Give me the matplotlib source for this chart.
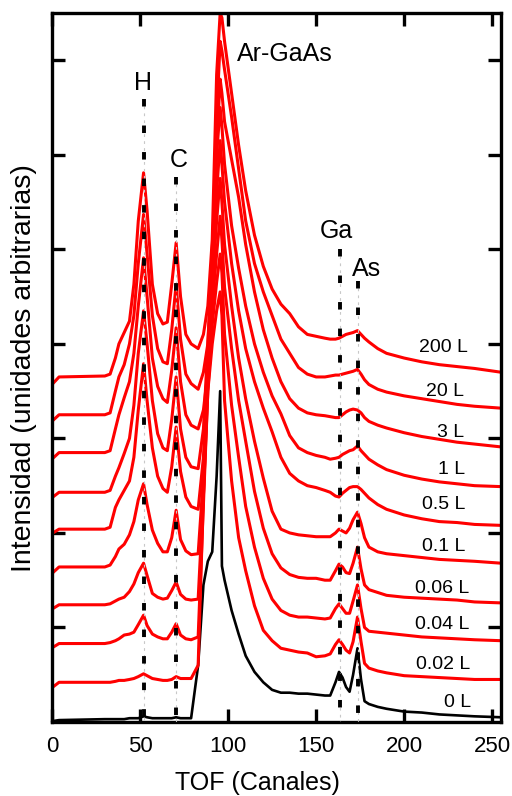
import matplotlib
matplotlib.use("Agg")
import matplotlib.pyplot as plt

plt.rcParams['font.family'] = ['Liberation Sans', 'DejaVu Sans']
plt.rcParams['lines.scale_dashes'] = False

# TOF channel grid shared by all spectra
tof = [0.5, 4, 30, 33, 36, 38, 41, 44, 46.5, 49, 52, 54, 57, 60, 63, 65.5, 68,
       70.5, 73, 76, 79, 83, 86, 88.5, 91, 93.5, 95.5,
       96.5, 98, 102, 106, 110, 115, 120, 125, 130, 135, 140, 145, 150, 155,
       158, 161, 163, 165, 167, 169, 171, 173.5, 175.5, 177.5, 180, 185, 190,
       200, 210, 220, 230, 240, 255]

# Offset spectra (arbitrary units), one list per hydrogen exposure
spec_0L = [0.01, 0.02, 0.03, 0.03, 0.03, 0.03, 0.03, 0.04, 0.04, 0.04, 0.06, 0.05, 0.04, 0.04, 0.04, 0.04, 0.04,
           0.05, 0.04, 0.04, 0.04, 0.6, 1.45, 1.7, 1.8, 2.6, 3.5,
           1.65, 1.5, 1.18, 0.93, 0.70, 0.53, 0.42, 0.34, 0.31, 0.31, 0.30, 0.30, 0.29, 0.28,
           0.28, 0.42, 0.53, 0.47, 0.37, 0.32, 0.5, 0.78, 0.45, 0.22, 0.19, 0.16, 0.14,
           0.11, 0.10, 0.08, 0.07, 0.06, 0.05]
spec_002L = [0.37, 0.42, 0.42, 0.42, 0.43, 0.44, 0.44, 0.45, 0.46, 0.48, 0.51, 0.49, 0.46, 0.45, 0.44, 0.44, 0.45,
             0.48, 0.46, 0.46, 0.46, 0.6, 2.4, 3.5, 4.0, 4.35, 4.55,
             4.3, 3.4, 2.55, 1.95, 1.60, 1.23, 0.97, 0.86, 0.78, 0.76, 0.74, 0.73, 0.69, 0.70,
             0.72, 0.82, 0.87, 0.82, 0.76, 0.73, 0.85, 1.11, 0.85, 0.62, 0.57, 0.54, 0.52,
             0.49, 0.48, 0.47, 0.46, 0.45, 0.45]
spec_004L = [0.79, 0.83, 0.83, 0.84, 0.86, 0.88, 0.92, 0.93, 0.95, 1.03, 1.13, 1.02, 0.93, 0.9, 0.88, 0.88, 0.95,
             1.04, 0.92, 0.88, 0.87, 0.9, 2.3, 3.5, 4.2, 4.65, 4.95,
             4.75, 4.1, 3.35, 2.8, 2.28, 1.85, 1.52, 1.3, 1.18, 1.13, 1.11, 1.11, 1.10, 1.09,
             1.10, 1.2, 1.25, 1.2, 1.15, 1.15, 1.28, 1.45, 1.2, 1.0, 0.96, 0.95, 0.94,
             0.92, 0.9, 0.89, 0.88, 0.87, 0.86]
spec_006L = [1.2, 1.24, 1.24, 1.25, 1.28, 1.3, 1.32, 1.38, 1.46, 1.58, 1.68, 1.55, 1.36, 1.32, 1.3, 1.31, 1.39,
             1.48, 1.35, 1.3, 1.29, 1.3, 2.4, 3.6, 4.4, 4.95, 5.35,
             5.1, 4.6, 3.95, 3.4, 2.97, 2.44, 2.05, 1.78, 1.63, 1.56, 1.53, 1.52, 1.52, 1.5,
             1.5, 1.6, 1.67, 1.64, 1.58, 1.57, 1.68, 1.85, 1.62, 1.45, 1.4, 1.37, 1.34,
             1.32, 1.31, 1.3, 1.29, 1.27, 1.26]
spec_01L = [1.58, 1.64, 1.64, 1.66, 1.75, 1.83, 1.88, 1.98, 2.12, 2.35, 2.52, 2.3, 2.03, 1.89, 1.8, 1.8, 1.95,
            2.24, 1.93, 1.81, 1.77, 1.78, 2.6, 3.7, 4.6, 5.3, 5.75,
            5.5, 5.05, 4.4, 3.85, 3.42, 2.97, 2.58, 2.23, 2.04, 2.0, 1.98, 1.97, 1.96, 1.96,
            1.96, 2.0, 2.04, 2.02, 2.0, 2.05, 2.14, 2.22, 2.1, 1.95, 1.85, 1.80, 1.78,
            1.76, 1.74, 1.72, 1.71, 1.7, 1.68]
spec_05L = [2.0, 2.04, 2.04, 2.06, 2.27, 2.35, 2.45, 2.55, 2.8, 3.3, 3.79, 3.4, 2.9, 2.6, 2.47, 2.43, 2.7,
            3.12, 2.65, 2.38, 2.28, 2.25, 2.8, 3.8, 4.8, 5.6, 6.15,
            5.9, 5.5, 4.85, 4.35, 3.95, 3.6, 3.32, 3.07, 2.8, 2.63, 2.55, 2.5, 2.48, 2.45,
            2.43, 2.39, 2.38, 2.42, 2.45, 2.48, 2.49, 2.49, 2.46, 2.42, 2.37, 2.3, 2.25,
            2.19, 2.15, 2.12, 2.11, 2.09, 2.08]
spec_1L = [2.38, 2.43, 2.43, 2.45, 2.6, 2.69, 2.84, 3.0, 3.35, 3.9, 4.35, 4.0, 3.4, 3.05, 2.9, 2.87, 3.2,
           3.65, 3.1, 2.8, 2.7, 2.68, 3.1, 4.0, 5.0, 6.0, 6.5,
           6.3, 5.9, 5.25, 4.8, 4.4, 4.0, 3.7, 3.45, 3.26, 3.03, 2.9, 2.85, 2.82, 2.8,
           2.78, 2.79, 2.8, 2.83, 2.85, 2.87, 2.88, 2.92, 2.87, 2.83, 2.78, 2.72, 2.67,
           2.61, 2.57, 2.54, 2.52, 2.5, 2.49]
spec_3L = [2.79, 2.85, 2.85, 2.87, 3.1, 3.25, 3.43, 3.6, 3.9, 4.4, 4.91, 4.5, 3.85, 3.55, 3.42, 3.38, 3.72,
           4.17, 3.6, 3.25, 3.14, 3.1, 3.3, 3.7, 4.6, 6.1, 6.8,
           6.65, 6.35, 5.95, 5.55, 5.05, 4.55, 4.15, 3.85, 3.6, 3.42, 3.32, 3.27, 3.25, 3.24,
           3.23, 3.22, 3.22, 3.25, 3.28, 3.3, 3.31, 3.3, 3.27, 3.22, 3.18, 3.14, 3.11,
           3.06, 3.02, 2.99, 2.96, 2.94, 2.91]
spec_20L = [3.19, 3.25, 3.25, 3.27, 3.5, 3.65, 3.78, 4.0, 4.3, 4.85, 5.37, 4.95, 4.3, 3.95, 3.81, 3.79, 4.15,
            4.63, 4.05, 3.68, 3.58, 3.52, 3.7, 4.0, 4.8, 6.4, 7.2,
            7.1, 6.9, 6.4, 5.85, 5.3, 4.85, 4.55, 4.3, 4.05, 3.9, 3.75, 3.68, 3.65, 3.65,
            3.66, 3.67, 3.67, 3.68, 3.69, 3.7, 3.71, 3.73, 3.68, 3.62, 3.57, 3.52, 3.49,
            3.45, 3.42, 3.39, 3.36, 3.34, 3.32]
spec_200L = [3.58, 3.65, 3.66, 3.68, 3.85, 4.0, 4.12, 4.24, 4.63, 5.3, 5.81, 5.41, 4.63, 4.32, 4.21, 4.23, 4.63,
             5.07, 4.5, 4.1, 4.0, 3.95, 4.1, 4.4, 5.1, 6.85, 7.5,
             7.45, 7.2, 6.65, 6.1, 5.62, 5.15, 4.82, 4.58, 4.42, 4.32, 4.18, 4.1, 4.08, 4.06,
             4.05, 4.05, 4.06, 4.08, 4.1, 4.11, 4.12, 4.14, 4.1, 4.06, 4.02, 3.95, 3.9,
             3.85, 3.81, 3.78, 3.76, 3.74, 3.70]

red_spectra = [spec_002L, spec_004L, spec_006L, spec_01L, spec_05L,
               spec_1L, spec_3L, spec_20L, spec_200L]

# Exposure labels (bottom to top) and where they sit
dose_labels = ['0 L', '0.02 L', '0.04 L', '0.06 L', '0.1 L', '0.5 L',
               '1 L', '3 L', '20 L', '200 L']
dose_label_x = [230.5, 222.3, 221.8, 221.3, 222.4, 222.4, 226.9, 226.5, 223.2, 222.2]
dose_label_y = [0.155, 0.56, 0.98, 1.36, 1.81, 2.25, 2.62, 3.01, 3.45, 3.91]

# Species markers: name, channel, top of marker line
species = ['H', 'C', 'Ga', 'As']
species_tof = [52.0, 70.4, 163.3, 173.7]
species_top = [6.59, 5.77, 5.0, 4.66]
species_text_x = [51.8, 71.9, 161.6, 178.6]
species_text_y = [6.69, 5.87, 5.12, 4.72]

fig = plt.figure(figsize=(5.12, 7.96), dpi=100)
ax = fig.add_axes([52 / 512, 1 - 722 / 796, 449 / 512, 709 / 796])

ax.plot(tof, spec_0L, color='black', lw=1.9, zorder=1, solid_joinstyle='round')
for spec in red_spectra:
    ax.plot(tof, spec, color='#ff0000', lw=2.2, zorder=2, solid_joinstyle='round')

for xs, top in zip(species_tof, species_top):
    ax.plot([xs, xs], [top, 0], color='#c8c8c8', lw=0.8,
            linestyle=(0, (2, 3)), zorder=4)
    ax.plot([xs, xs], [top, 0], color='black', lw=2.8,
            linestyle=(0, (5.4, 13.7)), zorder=5)

for name, tx, ty in zip(species, species_text_x, species_text_y):
    ax.text(tx, ty, name, fontsize=18, ha='center', va='baseline')
ax.text(105.2, 6.99, 'Ar-GaAs', fontsize=18, ha='left', va='baseline')

for lab, lx, ly in zip(dose_labels, dose_label_x, dose_label_y):
    ax.text(lx, ly, lab, fontsize=14, ha='center', va='baseline')

ax.set_xlim(0, 255)
ax.set_ylim(0, 7.5)
ax.set_xticks([0, 50, 100, 150, 200, 250])
ax.set_yticks([1, 2, 3, 4, 5, 6, 7])
ax.set_yticklabels([])
ax.tick_params(axis='both', which='major', direction='in', length=9.5, width=2.4,
               top=True, right=True, labelsize=16, pad=10)
for sp in ax.spines.values():
    sp.set_linewidth(2.4)

fig.text(257 / 512, 1 - 783 / 796, 'TOF (Canales)', fontsize=18,
         ha='center', va='center')
fig.text(24 / 512, 1 - 368 / 796, 'Intensidad (unidades arbitrarias)',
         fontsize=20.5, rotation=90, ha='center', va='center')

fig.savefig('out.png', dpi=100)
